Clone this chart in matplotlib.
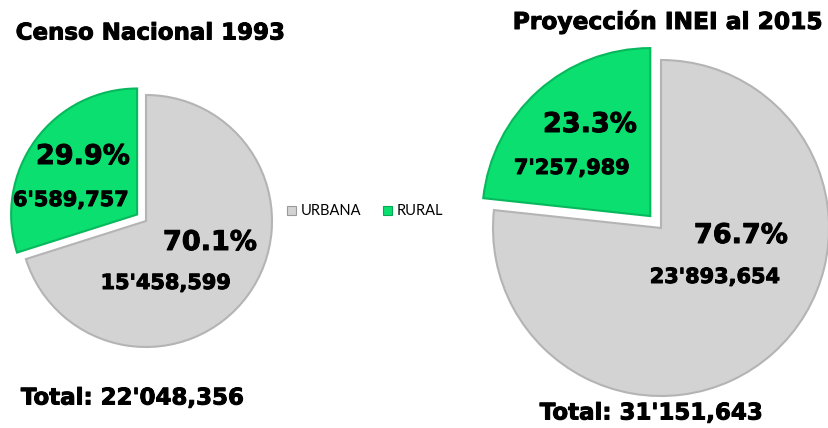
import matplotlib.pyplot as plt
import matplotlib.patheffects as pe
from matplotlib.patches import Rectangle

# data
titles = ['Censo Nacional 1993', 'Proyección INEI al 2015']
categories = ['URBANA', 'RURAL']
urbana = [15458599, 23893654]
rural = [6589757, 7257989]
colors = ['#D3D3D3', '#0ADF70']
edge_colors = ['#B4B4B4', '#08B85C']

W, H = 829, 428


def fmt(v):
    m, r = divmod(v, 1000000)
    return f"{m}'{r // 1000:03d},{r % 1000:03d}"


def fmt_total(v):
    return 'Total: ' + fmt(v)


fig = plt.figure(figsize=(W / 100, H / 100), dpi=100)
ax = fig.add_axes([0, 0, 1, 1])

# pie layout in pixel coords (y up); explode is in data units here
centers = [(146, 207), (661, 200)]
radii = [126, 168]
explode = [11, 16]

for i in range(2):
    vals = [urbana[i], rural[i]]
    wedges, _ = ax.pie(vals, colors=colors, startangle=90, counterclock=False,
                       center=centers[i], radius=radii[i],
                       explode=[0, explode[i]],
                       wedgeprops=dict(linewidth=1.5))
    for w, ec in zip(wedges, edge_colors):
        w.set_edgecolor(ec)

ax.set_xlim(0, W)
ax.set_ylim(0, H)
ax.set_aspect('auto')
ax.axis('off')

heavy = [pe.withStroke(linewidth=0.7, foreground='black')]
bold = dict(fontweight='bold', color='black', family='DejaVu Sans', path_effects=heavy)

# titles and totals
ax.text(150, H - 33, titles[0], ha='center', va='center', fontsize=16.5, **bold)
ax.text(668, H - 22, titles[1], ha='center', va='center', fontsize=16.8, **bold)
ax.text(132, H - 398, fmt_total(urbana[0] + rural[0]), ha='center', va='center', fontsize=16.5, **bold)
ax.text(651, H - 413, fmt_total(urbana[1] + rural[1]), ha='center', va='center', fontsize=16.5, **bold)

# slice labels
pct_pos = [((210, 243), (83, 157)), ((741, 236), (590, 125))]
val_pos = [((166, 283), (71, 200)), ((715, 277), (572, 168))]
for i in range(2):
    total = urbana[i] + rural[i]
    for j, v in enumerate([urbana[i], rural[i]]):
        px, py = pct_pos[i][j]
        vx, vy = val_pos[i][j]
        ax.text(px, H - py, f'{100 * v / total:.1f}%', ha='center', va='center', fontsize=19.5, **bold)
        ax.text(vx, H - vy, fmt(v), ha='center', va='center', fontsize=15, **bold)

# legend
leg_items = [(287, categories[0], colors[0], '#9A9A9A'), (383, categories[1], colors[1], '#06A855')]
for x, lab, c, ec in leg_items:
    ax.add_patch(Rectangle((x, H - 215), 9, 9, facecolor=c, edgecolor=ec, linewidth=0.8))
    ax.text(x + 14, H - 210.5, lab, ha='left', va='center', fontsize=10.5, family='Lato', color='black')

fig.savefig('out.png', dpi=100)
